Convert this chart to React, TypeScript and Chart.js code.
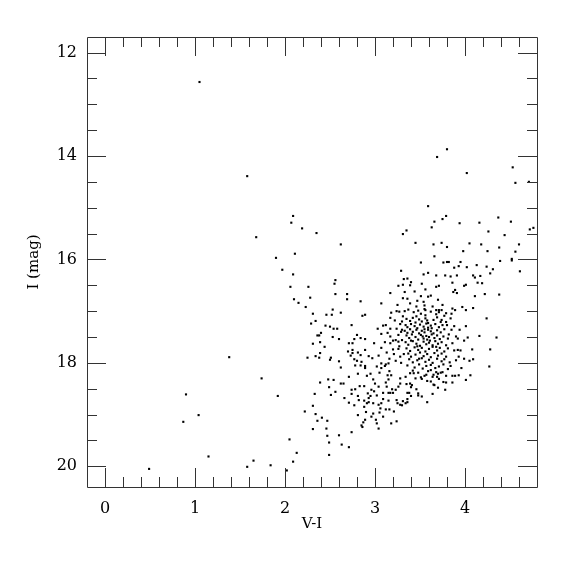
import React, { useEffect, useRef } from "react";
import { Chart, registerables } from "chart.js";

Chart.register(...registerables);

// Axis settings
const X_MIN = -0.2;
const X_MAX = 4.8;
const Y_MIN = 11.7;
const Y_MAX = 20.4;
const X_TICKS = [0, 1, 2, 3, 4];
const Y_TICKS = [12, 14, 16, 18, 20];
const X_MINOR_STEP = 0.2;
const Y_MINOR_STEP = 0.5;
const X_TITLE = "V-I";
const Y_TITLE = "I (mag)";

// Stars: [V-I, I]
const SPARSE_BLUE: [number, number][] = [
  [1.05, 12.57], [1.58, 14.39], [1.68, 15.57], [1.38, 17.89], [1.74, 18.30],
  [0.90, 18.61], [1.04, 19.01], [0.87, 19.14], [1.15, 19.81], [0.49, 20.05],
  [1.58, 20.01], [1.65, 19.89], [1.84, 19.98], [1.92, 18.64], [2.22, 18.94],
  [2.05, 19.48], [2.13, 19.74], [2.09, 19.91], [2.02, 20.08],
];

const UPPER_STARS: [number, number][] = [
  [2.09, 15.16], [2.07, 15.29], [2.19, 15.40], [2.35, 15.49], [2.62, 15.71],
  [3.31, 15.51], [2.11, 15.89], [1.90, 15.97],
  [3.80, 13.87], [3.69, 14.02], [4.53, 14.22], [4.02, 14.33], [4.56, 14.52],
  [4.71, 14.50], [3.59, 14.97], [3.79, 15.16], [3.66, 15.27], [3.75, 15.22],
  [3.94, 15.30], [4.16, 15.29], [4.37, 15.19], [4.51, 15.27], [3.35, 15.44],
  [3.63, 15.38], [4.26, 15.46], [4.72, 15.42], [4.76, 15.39], [4.44, 15.53],
  [3.45, 15.68], [3.65, 15.71], [3.74, 15.68], [3.80, 15.76], [4.05, 15.69],
  [4.18, 15.71], [3.98, 15.84], [4.25, 15.84], [4.38, 15.77], [4.60, 15.71],
  [4.56, 15.85], [3.66, 15.94], [4.52, 15.99],
];

const RGB_LEFT: [number, number][] = [
  [1.97, 16.20], [2.09, 16.29], [2.06, 16.53], [2.26, 16.53], [2.56, 16.40],
  [2.55, 16.47], [2.56, 16.67], [2.69, 16.67], [2.69, 16.77], [2.84, 16.81],
  [2.10, 16.77], [2.15, 16.84], [2.28, 16.74], [2.23, 16.92], [2.31, 17.05],
  [2.34, 17.19], [2.29, 17.24], [2.46, 17.07], [2.52, 17.07], [2.53, 16.97],
  [2.62, 17.03], [2.86, 17.09], [2.89, 17.07], [2.74, 17.27], [2.45, 17.28],
  [2.50, 17.30], [2.54, 17.34], [2.58, 17.34], [2.40, 17.42], [2.38, 17.47],
  [2.36, 17.47], [2.53, 17.50], [2.60, 17.54], [2.39, 17.60], [2.31, 17.63],
  [2.44, 17.69], [2.39, 17.81], [2.34, 17.87], [2.25, 17.90], [2.38, 17.90],
  [2.51, 17.90], [2.50, 17.94], [2.60, 17.97], [2.62, 18.09], [2.75, 17.62],
  [2.71, 17.62], [2.80, 17.46], [2.84, 17.52], [2.89, 17.54], [2.77, 17.54],
  [2.70, 17.78], [2.75, 17.75], [2.75, 17.81], [2.81, 17.80], [2.73, 17.86],
  [2.84, 17.85], [2.89, 17.75], [2.77, 17.93], [2.80, 17.96], [2.85, 17.98],
  [2.89, 18.06], [2.93, 17.87], [2.97, 17.91], [2.78, 18.05], [2.84, 18.05],
  [2.89, 18.10], [3.02, 18.07], [3.07, 18.10], [3.11, 18.06], [3.12, 18.03],
  [3.15, 18.01], [3.07, 18.01], [3.03, 17.34], [3.07, 17.44], [3.09, 17.28],
  [3.12, 17.27], [3.17, 17.34], [3.24, 17.34], [3.26, 17.46], [3.29, 17.40],
  [3.17, 17.49], [3.20, 17.57], [3.23, 17.56], [3.26, 17.59], [3.30, 17.56],
  [3.17, 17.62], [3.07, 17.71], [3.13, 17.80], [3.20, 17.74], [3.26, 17.73],
  [3.28, 17.88], [3.23, 17.96], [3.29, 18.00], [3.07, 16.85], [3.17, 16.65],
  [3.26, 16.51], [3.25, 16.88], [3.18, 17.03], [3.24, 17.00], [3.27, 17.01],
  [3.17, 17.13], [3.30, 17.20], [3.29, 16.22], [3.32, 16.38], [3.31, 16.49],
  [3.31, 16.75],
];

const RGB_UPPER_RIGHT: [number, number][] = [
  [3.51, 16.06], [3.76, 16.06], [3.80, 16.05], [3.82, 16.05], [3.88, 16.16],
  [3.93, 16.13], [3.95, 16.05], [4.02, 16.15], [4.13, 16.11], [4.24, 16.14],
  [4.31, 16.19], [4.28, 16.27], [4.39, 16.03], [4.52, 16.02], [4.61, 16.23],
  [3.54, 16.29], [3.59, 16.26], [3.68, 16.31], [3.78, 16.31], [3.84, 16.33],
  [3.91, 16.31], [4.09, 16.31], [4.11, 16.35], [4.17, 16.32], [4.19, 16.46],
  [4.14, 16.45], [3.36, 16.37], [3.40, 16.44], [3.39, 16.50], [3.52, 16.47],
  [3.56, 16.58], [3.68, 16.53], [3.71, 16.51], [3.86, 16.45], [3.99, 16.51],
  [4.01, 16.49], [3.87, 16.63], [3.91, 16.65], [3.89, 16.59], [4.11, 16.71],
  [4.22, 16.67], [4.38, 16.68], [3.33, 16.63], [3.36, 16.76], [3.51, 16.71],
  [3.59, 16.72], [3.70, 16.78], [3.39, 16.85], [3.46, 16.91], [3.54, 16.82],
  [3.55, 16.89], [3.56, 16.98], [3.64, 16.91], [3.68, 16.98], [3.71, 17.02],
  [3.74, 16.98], [3.79, 17.04], [3.86, 16.95], [3.89, 16.98], [3.97, 16.92],
  [4.01, 16.98], [4.09, 16.94], [4.24, 17.14], [4.01, 17.29], [4.16, 17.48],
  [4.35, 17.51], [4.28, 17.74], [4.27, 18.07], [4.05, 17.96], [4.09, 17.93],
  [3.99, 17.92], [3.93, 17.88], [3.92, 17.75], [3.88, 17.76], [3.95, 17.76],
  [4.08, 17.74], [3.99, 17.57], [4.03, 17.51], [3.92, 17.53], [3.90, 17.49],
  [3.85, 17.36], [3.88, 17.29], [3.94, 17.36], [3.79, 17.21], [3.80, 17.27],
  [3.84, 17.14], [3.74, 17.17], [3.77, 17.09], [3.85, 17.05],
];

const RED_CLUMP: [number, number][] = [
  [3.33, 17.00], [3.37, 16.97], [3.43, 17.02], [3.48, 16.99], [3.51, 17.05],
  [3.55, 16.96], [3.56, 17.08], [3.62, 17.01], [3.68, 17.06], [3.71, 16.98],
  [3.35, 17.15], [3.39, 17.19], [3.42, 17.13], [3.45, 17.22], [3.49, 17.16],
  [3.52, 17.20], [3.56, 17.14], [3.59, 17.23], [3.65, 17.17], [3.69, 17.12],
  [3.73, 17.21], [3.34, 17.27], [3.36, 17.31], [3.40, 17.25], [3.44, 17.29],
  [3.47, 17.33], [3.50, 17.26], [3.54, 17.30], [3.57, 17.24], [3.59, 17.32],
  [3.62, 17.28], [3.67, 17.25], [3.71, 17.31], [3.75, 17.27], [3.33, 17.38],
  [3.36, 17.42], [3.39, 17.35], [3.42, 17.40], [3.46, 17.36], [3.49, 17.43],
  [3.52, 17.38], [3.55, 17.41], [3.59, 17.36], [3.62, 17.39], [3.65, 17.43],
  [3.69, 17.37], [3.73, 17.41], [3.77, 17.35], [3.35, 17.47], [3.38, 17.52],
  [3.41, 17.45], [3.45, 17.50], [3.48, 17.55], [3.51, 17.46], [3.54, 17.53],
  [3.57, 17.48], [3.58, 17.55], [3.60, 17.50], [3.63, 17.45], [3.66, 17.52],
  [3.69, 17.47], [3.72, 17.54], [3.76, 17.49], [3.81, 17.53], [3.34, 17.60],
  [3.37, 17.65], [3.42, 17.58], [3.46, 17.63], [3.50, 17.67], [3.54, 17.59],
  [3.57, 17.64], [3.60, 17.61], [3.64, 17.66], [3.67, 17.58], [3.70, 17.63],
  [3.74, 17.60], [3.79, 17.66], [3.35, 17.72], [3.39, 17.77], [3.44, 17.70],
  [3.48, 17.75], [3.52, 17.71], [3.56, 17.78], [3.60, 17.73], [3.64, 17.69],
  [3.69, 17.76], [3.72, 17.71], [3.77, 17.78], [3.81, 17.72], [3.37, 17.82],
  [3.40, 17.88], [3.45, 17.84], [3.50, 17.80], [3.54, 17.87], [3.58, 17.83],
  [3.62, 17.89], [3.66, 17.81], [3.70, 17.86], [3.74, 17.82], [3.79, 17.88],
  [3.38, 17.93], [3.42, 17.99], [3.47, 17.95], [3.52, 17.91], [3.56, 17.98],
  [3.60, 17.94], [3.64, 18.00], [3.69, 17.92], [3.74, 17.97], [3.77, 17.93],
  [3.83, 17.99], [3.36, 18.05], [3.44, 18.09], [3.49, 18.03], [3.53, 18.11],
  [3.57, 18.06], [3.62, 18.04], [3.67, 18.10], [3.71, 18.07], [3.76, 18.03],
  [3.81, 18.12],
  [3.31, 17.10], [3.28, 17.25], [3.22, 17.18], [3.14, 17.42], [3.11, 17.60],
  [3.21, 17.83], [3.16, 17.92], [3.04, 17.86], [2.99, 17.62], [3.27, 17.68],
  [3.32, 17.83], [3.30, 17.36], [3.44, 16.62], [3.47, 16.80], [3.62, 16.70],
  [3.75, 16.88], [3.82, 17.45], [3.86, 17.62], [3.90, 17.95], [3.84, 18.06],
  [3.96, 18.10], [3.58, 18.35], [3.45, 18.30], [3.55, 17.35], [3.61, 17.57],
  [3.53, 17.49], [3.47, 17.68], [3.63, 17.33], [3.58, 17.18], [3.46, 17.10],
  [3.40, 17.57], [3.68, 17.69], [3.49, 17.92], [3.43, 18.20], [3.70, 18.48],
  [3.52, 18.65], [3.28, 18.30], [3.12, 18.38], [2.99, 18.55], [3.06, 18.88],
];

const LOWER_RGB: [number, number][] = [
  [2.39, 18.38], [2.48, 18.32], [2.54, 18.33], [2.49, 18.47], [2.71, 18.27],
  [2.62, 18.40], [2.65, 18.40], [2.51, 18.62], [2.56, 18.56], [2.33, 18.60],
  [2.31, 18.83], [2.34, 18.99], [2.41, 19.06], [2.36, 19.12], [2.47, 19.12],
  [2.46, 19.27], [2.31, 19.28], [2.47, 19.41], [2.60, 19.40], [2.49, 19.54],
  [2.63, 19.58], [2.71, 19.63], [2.49, 19.78], [2.74, 19.34], [2.66, 18.68],
  [2.71, 18.77], [2.74, 18.60], [2.74, 18.52], [2.78, 18.51], [2.81, 18.21],
  [2.91, 18.25], [2.95, 18.21], [3.05, 18.19], [3.14, 18.24], [3.18, 18.24],
  [3.15, 18.32], [2.98, 18.32], [3.00, 18.40], [2.88, 18.45], [2.83, 18.45],
  [3.04, 18.46], [3.13, 18.46], [3.19, 18.51], [3.23, 18.52], [3.28, 18.40],
  [3.26, 18.46], [3.09, 18.58], [3.15, 18.58], [3.17, 18.58], [3.20, 18.58],
  [2.96, 18.52], [2.92, 18.59], [2.95, 18.64], [3.02, 18.63], [3.09, 18.70],
  [2.93, 18.68], [2.81, 18.64], [2.82, 18.72], [2.88, 18.73], [2.93, 18.76],
  [2.91, 18.78], [2.77, 18.82], [2.88, 18.85], [2.98, 18.78], [3.04, 18.81],
  [3.07, 18.78], [3.15, 18.73], [3.24, 18.72], [3.28, 18.81], [3.25, 18.78],
  [3.16, 18.90], [3.12, 18.90], [3.05, 18.96], [3.09, 19.04], [2.98, 18.98],
  [2.96, 19.04], [2.90, 18.95], [2.81, 19.01], [2.89, 19.10], [3.01, 19.10],
  [3.02, 19.17], [2.87, 19.15], [2.85, 19.21], [2.86, 19.24], [3.04, 19.27],
  [3.18, 19.17], [3.24, 19.13], [3.21, 18.94], [3.30, 18.82], [3.31, 18.74],
  [3.16, 18.16],
  [3.34, 18.27], [3.39, 18.20], [3.42, 18.15], [3.48, 18.19], [3.51, 18.28],
  [3.52, 18.31], [3.55, 18.25], [3.57, 18.23], [3.59, 18.16], [3.62, 18.14],
  [3.64, 18.27], [3.65, 18.23], [3.68, 18.18], [3.70, 18.21], [3.73, 18.19],
  [3.75, 18.18], [3.69, 18.27], [3.71, 18.31], [3.62, 18.36], [3.65, 18.42],
  [3.66, 18.43], [3.76, 18.37], [3.79, 18.38], [3.79, 18.25], [3.86, 18.25],
  [3.89, 18.25], [3.93, 18.24], [3.86, 18.38], [4.01, 18.33], [4.06, 18.24],
  [3.35, 18.41], [3.39, 18.40], [3.41, 18.43], [3.40, 18.47], [3.36, 18.58],
  [3.38, 18.58], [3.46, 18.51], [3.48, 18.59], [3.48, 18.63], [3.40, 18.64],
  [3.36, 18.70], [3.36, 18.76], [3.34, 18.78], [3.58, 18.76], [3.64, 18.60],
  [3.78, 18.52],
];

const STAR_GROUPS = [SPARSE_BLUE, UPPER_STARS, RGB_LEFT, RGB_UPPER_RIGHT, RED_CLUMP, LOWER_RGB];

const FONT_FAMILY = "'DejaVu Serif', serif";

const frameAndTicks = {
  id: "frameAndTicks",
  afterDraw(chart: any) {
    const { ctx, chartArea } = chart;
    const xs = chart.scales.x;
    const ys = chart.scales.y;
    const { left, right, top, bottom } = chartArea;
    const MAJOR = 19;
    const MINOR = 10;
    ctx.save();
    ctx.strokeStyle = "#333";
    ctx.lineWidth = 1;
    ctx.beginPath();
    ctx.rect(Math.round(left) + 0.5, Math.round(top) + 0.5, Math.round(right - left), Math.round(bottom - top));
    ctx.stroke();
    ctx.beginPath();
    const nx = Math.round((X_MAX - X_MIN) / X_MINOR_STEP);
    for (let k = 0; k <= nx; k++) {
      const v = X_MIN + k * X_MINOR_STEP;
      const isMajor = Math.abs(v - Math.round(v)) < 1e-6;
      const px = Math.round(xs.getPixelForValue(v)) + 0.5;
      if (px <= left + 1 || px >= right - 1) continue;
      const len = isMajor ? MAJOR : MINOR;
      ctx.moveTo(px, bottom);
      ctx.lineTo(px, bottom - len);
      ctx.moveTo(px, top);
      ctx.lineTo(px, top + len);
    }
    for (let v = Math.ceil(Y_MIN / Y_MINOR_STEP) * Y_MINOR_STEP; v <= Y_MAX + 1e-6; v += Y_MINOR_STEP) {
      const isMajor = Math.abs(v / 2 - Math.round(v / 2)) < 1e-6;
      const py = Math.round(ys.getPixelForValue(v)) + 0.5;
      if (py <= top + 1 || py >= bottom - 1) continue;
      const len = isMajor ? MAJOR : MINOR;
      ctx.moveTo(left, py);
      ctx.lineTo(left + len, py);
      ctx.moveTo(right, py);
      ctx.lineTo(right - len, py);
    }
    ctx.stroke();
    ctx.restore();
  },
};

export default function App() {
  const canvasRef = useRef<HTMLCanvasElement | null>(null);

  useEffect(() => {
    const canvas = canvasRef.current;
    if (!canvas) return;
    const data = STAR_GROUPS.flat().map(([vi, mag]) => ({ x: vi, y: mag }));
    const chart = new Chart(canvas, {
      type: "scatter",
      data: {
        datasets: [
          {
            data,
            pointStyle: "rect",
            pointRadius: 1.5,
            pointBorderWidth: 0,
            backgroundColor: "#000",
            borderColor: "#000",
          },
        ],
      },
      options: {
        responsive: false,
        animation: false,
        layout: { padding: { top: 37, right: 38, left: 0, bottom: 0 } },
        plugins: { legend: { display: false }, tooltip: { enabled: false } },
        scales: {
          x: {
            type: "linear",
            min: X_MIN,
            max: X_MAX,
            grid: { display: false, drawTicks: false },
            border: { display: false },
            afterBuildTicks: (scale: any) => {
              scale.ticks = X_TICKS.map((v) => ({ value: v }));
            },
            afterFit: (scale: any) => {
              scale.height = 88;
            },
            ticks: {
              color: "#000",
              padding: 12,
              maxRotation: 0,
              font: { family: FONT_FAMILY, size: 16 },
              callback: (v: any) => String(v),
            },
            title: {
              display: true,
              text: X_TITLE,
              color: "#000",
              font: { family: FONT_FAMILY, size: 15 },
              padding: { top: 0, bottom: 42 },
            },
          },
          y: {
            type: "linear",
            reverse: true,
            min: Y_MIN,
            max: Y_MAX,
            grid: { display: false, drawTicks: false },
            border: { display: false },
            afterBuildTicks: (scale: any) => {
              scale.ticks = Y_TICKS.map((v) => ({ value: v }));
            },
            afterFit: (scale: any) => {
              scale.width = 87;
            },
            ticks: {
              color: "#000",
              padding: 10,
              font: { family: FONT_FAMILY, size: 16 },
              callback: (v: any) => String(v),
            },
            title: {
              display: true,
              text: Y_TITLE,
              color: "#000",
              font: { family: FONT_FAMILY, size: 15 },
              padding: { top: 25, bottom: 0 },
            },
          },
        },
      },
      plugins: [frameAndTicks],
    });
    return () => chart.destroy();
  }, []);

  return (
    <div style={{ position: "absolute", left: 0, top: 0, width: 575, height: 575, background: "#fff" }}>
      <canvas ref={canvasRef} width={575} height={575} style={{ display: "block" }} />
    </div>
  );
}
